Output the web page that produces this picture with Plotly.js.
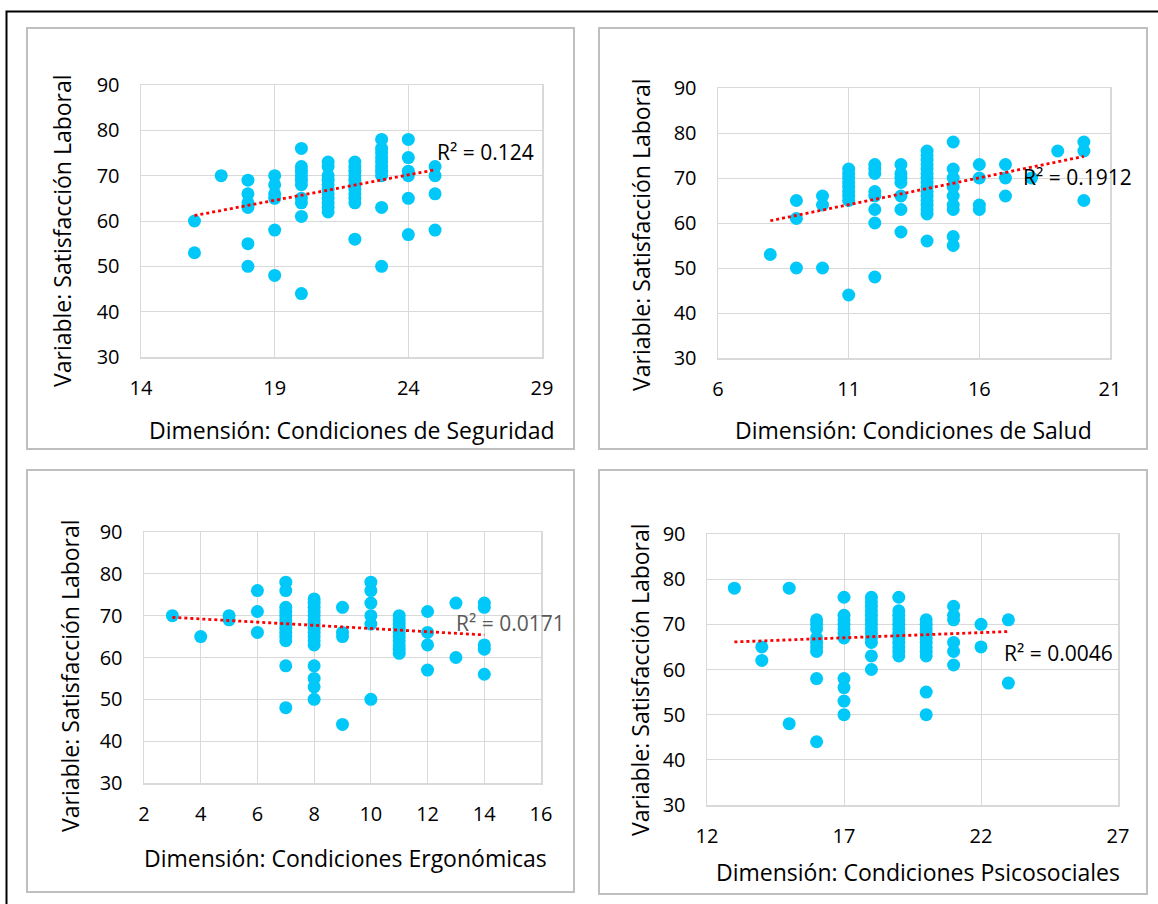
<!DOCTYPE html>
<html>
<head>
<meta charset="utf-8">
<script src="https://cdn.plot.ly/plotly-3.0.1.min.js"></script>
<style>
html,body{margin:0;padding:0;background:#fff;}
#chart{width:1158px;height:904px;}
</style>
</head>
<body>
<div id="chart"></div>
<script>
// ---------- DATA ----------
const yTitle = "Variable: Satisfacción Laboral";

// Panel 1: Condiciones de Seguridad
const segXs = [16, 17, 18, 19, 20, 21, 22, 23, 24, 25];
const segYs = [
  [60, 53],
  [70],
  [69, 66, 64, 63, 55, 50],
  [70, 68, 66, 65, 58, 48],
  [76, 72, 71, 70, 69, 68, 65, 64, 61, 44],
  [73, 72, 70, 69, 68, 67, 66, 65, 64, 63, 62],
  [73, 72, 71, 70, 69, 68, 67, 66, 65, 64, 56],
  [78, 76, 75, 74, 73, 72, 71, 70, 63, 50],
  [78, 74, 71, 70, 65, 57],
  [72, 70, 66, 58]
];
const segTrendX = [16, 25];
const segTrendY = [61.2, 71.3];
const segR2 = "R² = 0.124";
const segTitle = "Dimensión: Condiciones de Seguridad";

// Panel 2: Condiciones de Salud
const salXs = [8, 9, 10, 11, 12, 13, 14, 15, 16, 17, 18, 19, 20];
const salYs = [
  [53],
  [65, 61, 50],
  [66, 64, 50],
  [72, 71, 70, 69, 68, 67, 66, 65, 44],
  [73, 72, 71, 67, 66, 63, 60, 48],
  [73, 71, 70, 69, 66, 63, 58],
  [76, 75, 74, 73, 72, 71, 70, 69, 68, 67, 66, 65, 64, 63, 62, 56],
  [78, 72, 70, 68, 66, 64, 63, 57, 55],
  [73, 70, 64, 63],
  [73, 70, 66],
  [70],
  [76],
  [78, 76, 65]
];
const salTrendX = [8, 20];
const salTrendY = [60.5, 74.8];
const salR2 = "R² = 0.1912";
const salTitle = "Dimensión: Condiciones de Salud";

// Panel 3: Condiciones Ergonómicas
const ergXs = [3, 4, 5, 6, 7, 8, 9, 10, 11, 12, 13, 14];
const ergYs = [
  [70],
  [65],
  [70, 69],
  [76, 71, 66],
  [78, 76, 72, 71, 70, 69, 68, 67, 66, 65, 64, 58, 48],
  [74, 73, 72, 71, 70, 69, 68, 67, 66, 65, 64, 63, 58, 55, 53, 50],
  [72, 66, 65, 44],
  [78, 76, 73, 70, 68, 50],
  [70, 69, 68, 67, 66, 65, 64, 63, 62, 61],
  [71, 66, 63, 57],
  [73, 60],
  [73, 72, 63, 62, 56]
];
const ergTrendX = [3, 14];
const ergTrendY = [69.6, 65.4];
const ergR2 = "R² = 0.0171";
const ergTitle = "Dimensión: Condiciones Ergonómicas";

// Panel 4: Condiciones Psicosociales
const psiXs = [13, 14, 15, 16, 17, 18, 19, 20, 21, 22, 23];
const psiYs = [
  [78],
  [65, 62],
  [78, 48],
  [71, 70, 69, 67, 66, 65, 64, 58, 44],
  [76, 72, 71, 70, 69, 68, 67, 58, 56, 53, 50],
  [76, 75, 74, 73, 72, 71, 70, 69, 68, 67, 66, 63, 60],
  [76, 73, 72, 71, 70, 69, 68, 67, 66, 65, 64, 63],
  [71, 70, 69, 68, 67, 66, 65, 64, 63, 55, 50],
  [74, 72, 71, 66, 64, 61],
  [70, 65],
  [71, 57]
];
const psiTrendX = [13, 23];
const psiTrendY = [66.1, 68.4];
const psiR2 = "R² = 0.0046";
const psiTitle = "Dimensión: Condiciones Psicosociales";

// ---------- LAYOUT HELPERS ----------
const W = 1158, H = 904;
const FONT = "Open Sans, Noto Sans, sans-serif";
const px = v => v / W;
const py = v => 1 - v / H;

function expand(xs, ys) {
  const X = [], Y = [];
  xs.forEach((x, i) => ys[i].forEach(y => { X.push(x); Y.push(y); }));
  return {X, Y};
}

const panels = [
  {xs: segXs, ys: segYs, tx: segTrendX, ty: segTrendY, r2: segR2, r2x: 25.0, r2y: 75.2, r2c: "#000",
   xr: [14, 29], t0: 14, dt: 5, plot: [141, 85, 542, 357], title: segTitle, titlePos: [352, 430], yTitlePos: [62, 231]},
  {xs: salXs, ys: salYs, tx: salTrendX, ty: salTrendY, r2: salR2, r2x: 17.6, r2y: 70.2, r2c: "#000",
   xr: [6, 21], t0: 6, dt: 5, plot: [718, 88, 1110, 358], title: salTitle, titlePos: [913, 430], yTitlePos: [641, 235]},
  {xs: ergXs, ys: ergYs, tx: ergTrendX, ty: ergTrendY, r2: ergR2, r2x: 12.93, r2y: 68.2, r2c: "#595959",
   xr: [2, 16], t0: 2, dt: 2, plot: [144, 532, 541, 783], title: ergTitle, titlePos: [345, 858], yTitlePos: [70, 676]},
  {xs: psiXs, ys: psiYs, tx: psiTrendX, ty: psiTrendY, r2: psiR2, r2x: 22.77, r2y: 63.7, r2c: "#000",
   xr: [12, 27], t0: 12, dt: 5, plot: [707, 534, 1118, 805], title: psiTitle, titlePos: [918, 872], yTitlePos: [640, 680]}
];

const traces = [];
const layout = {
  width: W, height: H,
  margin: {l: 0, r: 0, t: 0, b: 0},
  paper_bgcolor: "#fff", plot_bgcolor: "#fff",
  showlegend: false,
  font: {family: FONT, size: 20, color: "#000"},
  annotations: [],
  shapes: []
};

panels.forEach((p, i) => {
  const n = i + 1;
  const xa = "x" + (n === 1 ? "" : n), ya = "y" + (n === 1 ? "" : n);
  const xk = "xaxis" + (n === 1 ? "" : n), yk = "yaxis" + (n === 1 ? "" : n);
  const d = expand(p.xs, p.ys);
  traces.push({
    type: "scatter", mode: "markers", x: d.X, y: d.Y, xaxis: xa, yaxis: ya,
    marker: {color: "#00C8F8", size: 13, line: {width: 0}}, hoverinfo: "skip"
  });
  traces.push({
    type: "scatter", mode: "lines", x: p.tx, y: p.ty, xaxis: xa, yaxis: ya,
    line: {color: "#FF0000", width: 2.8, dash: "dot"}, hoverinfo: "skip"
  });
  const [l, t, r, b] = p.plot;
  layout[xk] = {
    domain: [px(l), px(r)], anchor: ya, range: p.xr, tick0: p.t0, dtick: p.dt,
    showgrid: true, gridcolor: "#d9d9d9", gridwidth: 1,
    showline: true, mirror: true, linecolor: "#d9d9d9", linewidth: 1.5,
    zeroline: false, ticks: "", ticklabelstandoff: 12,
    tickfont: {family: FONT, size: 20, color: "#000"}
  };
  layout[yk] = {
    domain: [py(b), py(t)], anchor: xa, range: [30, 90], dtick: 10,
    showgrid: true, gridcolor: "#d9d9d9", gridwidth: 1,
    showline: true, mirror: true, linecolor: "#d9d9d9", linewidth: 1.5,
    zeroline: false, ticks: "", ticklabelstandoff: 16,
    tickfont: {family: FONT, size: 20, color: "#000"}
  };
  // R² label
  layout.annotations.push({
    xref: xa, yref: ya, x: p.r2x, y: p.r2y, text: p.r2, showarrow: false,
    xanchor: "left", yanchor: "middle", font: {family: FONT, size: 21, color: p.r2c}
  });
  // x-axis title
  layout.annotations.push({
    xref: "paper", yref: "paper", x: px(p.titlePos[0]), y: py(p.titlePos[1]),
    text: p.title, showarrow: false, xanchor: "center", yanchor: "middle",
    font: {family: FONT, size: 23, color: "#000"}
  });
  // y-axis title
  layout.annotations.push({
    xref: "paper", yref: "paper", x: px(p.yTitlePos[0]), y: py(p.yTitlePos[1]),
    text: yTitle, showarrow: false, textangle: -90, xanchor: "center", yanchor: "middle",
    font: {family: FONT, size: 23, color: "#000"}
  });
});

// panel frames
const frames = [[27, 28, 574, 449], [599, 28, 1147, 449], [27, 470, 574, 892], [599, 470, 1147, 894]];
frames.forEach(f => layout.shapes.push({
  type: "rect", xref: "paper", yref: "paper", layer: "below",
  x0: px(f[0]), x1: px(f[2]), y0: py(f[3]), y1: py(f[1]),
  line: {color: "#bfbfbf", width: 2}, fillcolor: "rgba(0,0,0,0)"
}));
// outer black border (top and left visible)
layout.shapes.push({
  type: "rect", xref: "paper", yref: "paper", layer: "below",
  x0: px(6.5), x1: px(1170), y0: py(920), y1: py(11.5),
  line: {color: "#000", width: 2}, fillcolor: "rgba(0,0,0,0)"
});

Plotly.newPlot("chart", traces, layout, {displayModeBar: false, staticPlot: true});
</script>
</body>
</html>
